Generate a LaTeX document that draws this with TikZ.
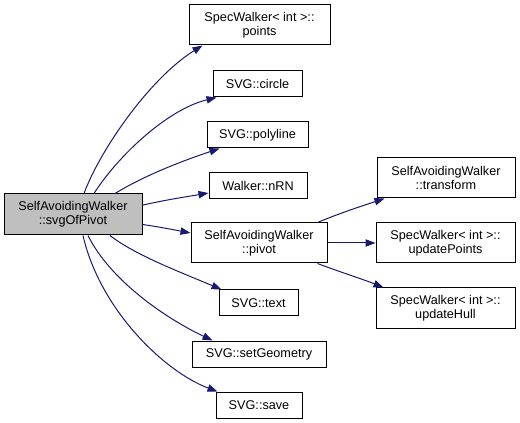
\documentclass[tikz,border=0pt]{standalone}
\usepackage{fontspec}
\setmainfont{Liberation Sans}
\usetikzlibrary{arrows.meta}
\definecolor{edgeblue}{HTML}{191970}
\definecolor{mainfill}{HTML}{BFBFBF}
\begin{document}
\begin{tikzpicture}[x=0.75pt,y=-0.75pt,
  box/.style={draw=black, line width=0.75pt, fill=white, inner sep=0pt, align=center,
    font=\fontsize{9.5}{10.5}\selectfont, text=black},
  onel/.style={box, minimum height=19.5pt},
  twol/.style={box, minimum height=30pt},
  edge/.style={draw=edgeblue, line width=0.75pt, -{Triangle[length=7.5pt,width=5.5pt]}}]
\useasboundingbox (0,0) rectangle (520,423);

\node[box, minimum width=103.5pt, minimum height=30.75pt, fill=mainfill] (main) at (73,214.5) {SelfAvoidingWalker\\::svgOfPivot};

\node[twol, minimum width=105.75pt] (points) at (259.5,25) {SpecWalker< int >::\\points};
\node[onel, minimum width=66.75pt] (circle) at (257.5,84) {SVG::circle};
\node[onel, minimum width=75.75pt] (polyline) at (257.5,135) {SVG::polyline};
\node[onel, minimum width=73.5pt] (nRN) at (258,186) {Walker::nRN};
\node[twol, minimum width=102pt] (pivot) at (259,243) {SelfAvoidingWalker\\::pivot};
\node[onel, minimum width=59.25pt] (text) at (258.5,303) {SVG::text};
\node[onel, minimum width=100.5pt] (setGeometry) at (259,354) {SVG::setGeometry};
\node[onel, minimum width=64.5pt] (save) at (259,405) {SVG::save};

\node[twol, minimum width=103.5pt] (transform) at (446,178) {SelfAvoidingWalker\\::transform};
\node[twol, minimum width=104.25pt] (updatePoints) at (445.5,243) {SpecWalker< int >::\\updatePoints};
\node[twol, minimum width=104.25pt] (updateHull) at (445.5,308) {SpecWalker< int >::\\updateHull};

\draw[edge] ([xshift=8.25pt]main.north) .. controls (100,150) and (150,78) .. ([xshift=10.5pt]points.south west);
\draw[edge] ([xshift=15.75pt]main.north) .. controls (115,160) and (165,110) .. ([xshift=3pt]circle.south west);
\draw[edge] ([xshift=31.5pt]main.north) .. controls (145,175) and (185,160) .. ([xshift=9.75pt]polyline.south west);
\draw[edge] ([yshift=7pt]main.east) .. controls (165,200) and (185,197) .. ([yshift=-5.25pt]nRN.west);
\draw[edge] ([yshift=-7.5pt]main.east) .. controls (160,227) and (175,230) .. ([yshift=7.5pt]pivot.west);
\draw[edge] ([xshift=27.75pt]main.south) .. controls (135,255) and (180,272) .. ([xshift=2.25pt]text.north west);
\draw[edge] ([xshift=11.25pt]main.south) .. controls (110,280) and (165,318) .. ([xshift=15.75pt]setGeometry.north west);
\draw[edge] ([xshift=7.5pt]main.south) .. controls (100,310) and (165,372) .. ([xshift=1.5pt]save.north west);

\draw[edge] ([xshift=-7.5pt]pivot.north east) .. controls (340,213) and (365,205) .. ([xshift=6pt]transform.south west);
\draw[edge] (pivot.east) -- (updatePoints.west);
\draw[edge] ([xshift=-7.5pt]pivot.south east) .. controls (340,272) and (365,280) .. ([xshift=6pt]updateHull.north west);
\end{tikzpicture}
\end{document}
